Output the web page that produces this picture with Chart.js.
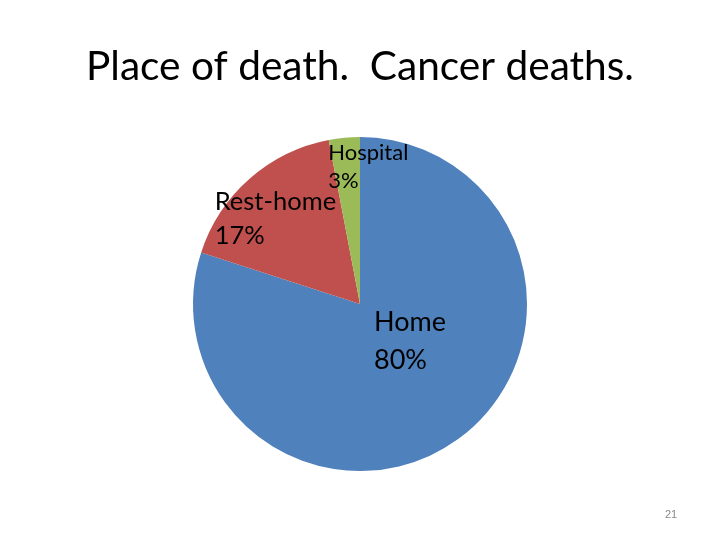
<!DOCTYPE html>
<html>
<head>
<meta charset="utf-8">
<script src="https://cdn.jsdelivr.net/npm/chart.js@4"></script>
<style>
html,body{margin:0;padding:0;background:#fff;}
#wrap{width:720px;height:540px;position:relative;}
</style>
</head>
<body>
<div id="wrap"><canvas id="c" width="720" height="540"></canvas></div>
<script>
const categories = ["Home", "Rest-home", "Hospital"];
const values = [80, 17, 3];
const labelLines = [["Home", "80%"], ["Rest-home", "17%"], ["Hospital", "3%"]];
const colors = ["#4F81BD", "#C0504D", "#9BBB59"];
const titleText = "Place of death.  Cancer deaths.";
const pageNumber = "21";

// label offsets relative to pie centre, in fractions of radius
const labelOffsets = [[0.084, 0.11], [-0.87, -0.615], [-0.19, -0.905]];
const labelSizes = [27, 25.5, 22];
const lineGaps = [38, 34, 28];

const overlay = {
  id: 'overlay',
  afterDraw(chart) {
    const ctx = chart.ctx;
    ctx.save();
    // title
    let size = 40;
    ctx.font = size + 'px Lato';
    const w = ctx.measureText(titleText).width;
    size = size * 548 / w;
    ctx.font = size + 'px Lato';
    ctx.fillStyle = '#000';
    ctx.textAlign = 'center';
    ctx.textBaseline = 'middle';
    ctx.fillText(titleText, 360, 67);
    // page number
    ctx.font = '11px "Liberation Sans"';
    ctx.fillStyle = '#888';
    ctx.fillText(pageNumber, 671, 515);
    // slice labels
    const meta = chart.getDatasetMeta(0);
    const arc = meta.data[0];
    const cx = arc.x, cy = arc.y, r = arc.outerRadius;
    ctx.textAlign = 'left';
    ctx.fillStyle = '#000';
    labelLines.forEach((lines, i) => {
      ctx.font = labelSizes[i] + 'px Lato';
      const x = cx + labelOffsets[i][0] * r;
      const y = cy + labelOffsets[i][1] * r;
      lines.forEach((t, j) => ctx.fillText(t, x, y + j * lineGaps[i]));
    });
    ctx.restore();
  }
};

new Chart(document.getElementById('c'), {
  type: 'pie',
  data: {
    labels: categories,
    datasets: [{ data: values, backgroundColor: colors, borderWidth: 0 }]
  },
  options: {
    responsive: false,
    animation: false,
    layout: { padding: { top: 137, bottom: 69, left: 193, right: 193 } },
    plugins: { legend: { display: false }, tooltip: { enabled: false }, title: { display: false } }
  },
  plugins: [overlay]
});
</script>
</body>
</html>
